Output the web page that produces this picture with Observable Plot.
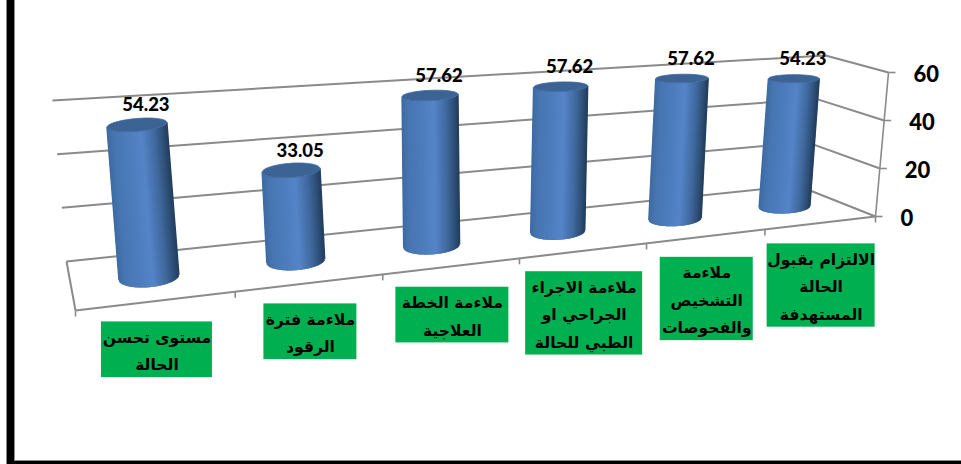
<!DOCTYPE html>
<html lang="ar">
<head>
<meta charset="utf-8">
<script src="https://cdn.jsdelivr.net/npm/d3@7"></script>
<script src="https://cdn.jsdelivr.net/npm/@observablehq/plot@0.6"></script>
<style>html,body{margin:0;padding:0;background:#fff;overflow:hidden}svg{display:block}</style>
</head>
<body>
<div id="chart"></div>
<script>
// ---- data ----
const categories = [
  "مستوى تحسن\nالحالة",
  "ملاءمة فترة\nالرقود",
  "ملاءمة الخطة\nالعلاجية",
  "ملاءمة الاجراء\nالجراحي او\nالطبي للحالة",
  "ملاءمة\nالتشخيص\nوالفحوصات",
  "الالتزام بقبول\nالحالة\nالمستهدفة"
];
const values = [54.23, 33.05, 57.62, 57.62, 57.62, 54.23];
const valueLabels = ["54.23", "33.05", "57.62", "57.62", "57.62", "54.23"];
const ticks = [0, 20, 40, 60];

// ---- the chart's 3-D box as it appears on the page ----
const W = 961, H = 464, vMax = 60, perspective = 1.247;
const corners = {
  backLeft:   {0: [66, 261], 60: [52, 100]},
  backRight:  {0: [797, 185], 60: [825, 55]},
  frontLeft:  {0: [75, 310], 60: [56, 130]},
  frontRight: {0: [875, 216], 60: [888, 72]}
};
const boxWidths = [111, 93, 113, 117, 93, 108];
const lerp = (a, b, t) => a + (b - a) * t;
const mix = (p, q, t) => [lerp(p[0], q[0], t), lerp(p[1], q[1], t)];
const onEdge = (c, v) => mix(c[0], c[60], v / vMax);
const foreshorten = u => perspective * u / (1 + (perspective - 1) * u);
// u: along the categories 0..1, w: depth 0 back..1 front, v: value
function project(u, w, v) {
  const t = foreshorten(u);
  const back = mix(onEdge(corners.backLeft, v), onEdge(corners.backRight, v), t);
  const front = mix(onEdge(corners.frontLeft, v), onEdge(corners.frontRight, v), t);
  return mix(back, front, w);
}
const n = categories.length;
const uOf = i => (i + 0.5) / n;

// ---- frame lines ----
const seg = (a, b) => ({x1: a[0], y1: a[1], x2: b[0], y2: b[1]});
const gridSegs = [];
for (const v of ticks) {
  gridSegs.push(seg(project(0, 0, v), project(1, 0, v)));
  gridSegs.push(seg(project(1, 0, v), project(1, 1, v)));
}
gridSegs.push(seg(project(0, 0, 0), project(0, 1, 0)));
gridSegs.push(seg(project(0, 1, 0), project(1, 1, 0)));
const axisSegs = [seg(project(1, 1, 0), project(1, 1, vMax))];
for (const v of ticks) {
  const p = project(1, 1, v);
  axisSegs.push(seg(p, [p[0] + 7, p[1]]));
}
for (let i = 0; i <= n; i++) {
  const p = project(i / n, 1, 0);
  axisSegs.push(seg(p, [p[0], p[1] + 6]));
}

// ---- cylinders ----
const radiusX = t => 30.5 - 5.5 * t;
const topDepth = t => 0.46 - 0.08 * t;
const slices = 90;
const strips = [], caps = [];
values.forEach((value, i) => {
  const u = uOf(i), t = foreshorten(u), rx = radiusX(t);
  const frame = (v, w) => ({
    c: project(u, w, v),
    slope: -0.09 + t * (0.06 + 0.04 * v / vMax),
    ry: 0.21 * (project(u, 1, v)[1] - project(u, 0, v)[1])
  });
  const base = frame(0, 0.5), top = frame(value, topDepth(t));
  for (let k = 0; k <= slices; k++) {
    const s = -1 + 2 * k / slices;
    const arc = Math.sqrt(Math.max(0, 1 - s * s));
    strips.push({
      x1: base.c[0] + rx * s, y1: base.c[1] + rx * s * base.slope + base.ry * arc,
      x2: top.c[0] + rx * s,  y2: top.c[1] + rx * s * top.slope + top.ry * arc,
      shade: s, bar: i
    });
  }
  for (let k = 0; k <= 72; k++) {
    const a = 2 * Math.PI * k / 72;
    caps.push({
      x: top.c[0] + rx * Math.cos(a),
      y: top.c[1] + rx * Math.cos(a) * top.slope + top.ry * Math.sin(a),
      bar: i
    });
  }
});

// ---- labels ----
const valueRows = values.map((v, i) => {
  const p = project(uOf(i), topDepth(foreshorten(uOf(i))), v);
  return {x: p[0] + 9, y: p[1] - 19.5, label: valueLabels[i]};
});
const tickRows = ticks.map(v => {
  const p = project(1, 1, v);
  return {x: p[0] + 25, y: p[1] + 2, label: String(v)};
});
const lineH = 27.6;
const catRows = categories.map((label, i) => {
  const p = project(uOf(i), 1, 0);
  const lines = label.split("\n").length;
  const y1 = p[1] + 21, y2 = y1 + lines * lineH + 0.5;
  return {label, x1: p[0] - boxWidths[i] / 2, x2: p[0] + boxWidths[i] / 2, y1, y2, x: p[0], y: (y1 + y2) / 2 - 2};
});

const chart = Plot.plot({
  width: W, height: H,
  margin: 0,
  x: {type: "linear", domain: [0, W], range: [0, W], axis: null},
  y: {type: "linear", domain: [0, H], range: [0, H], axis: null},
  color: {
    type: "linear",
    domain: [-1, -0.75, -0.2, 0.15, 0.6, 0.85, 1],
    range: ["#3f6ba3", "#4876b3", "#4f7ebf", "#5585c9", "#40689c", "#2f5078", "#243f60"]
  },
  style: {background: "#fff"},
  marks: [
    // picture frame
    Plot.rect([{x1: 6, x2: 15, y1: 0, y2: 464}, {x1: 6, x2: W, y1: 460, y2: 464}],
      {x1: "x1", x2: "x2", y1: "y1", y2: "y2", fill: "#8c8c8c"}),
    Plot.rect([{x1: 7, x2: 14, y1: 0, y2: 464}, {x1: 7, x2: W, y1: 461, y2: 464}],
      {x1: "x1", x2: "x2", y1: "y1", y2: "y2", fill: "#000"}),
    // walls and floor
    Plot.link(gridSegs, {x1: "x1", y1: "y1", x2: "x2", y2: "y2", stroke: () => "#8a8a8a", strokeWidth: 2}),
    Plot.link(axisSegs, {x1: "x1", y1: "y1", x2: "x2", y2: "y2", stroke: () => "#8a8a8a", strokeWidth: 1.6}),
    // cylinders
    Plot.link(strips, {x1: "x1", y1: "y1", x2: "x2", y2: "y2", stroke: "shade", strokeWidth: 1.5, strokeLinecap: "butt"}),
    Plot.line(caps, {x: "x", y: "y", z: "bar", fill: () => "#3b6394", stroke: () => "#3f6a9e", strokeWidth: 0.8, curve: "linear"}),
    // values
    Plot.text(valueRows, {x: "x", y: "y", text: "label", fontFamily: "Lato", fontWeight: 900, fontSize: 18.5, fill: "#000"}),
    Plot.text(tickRows, {x: "x", y: "y", text: "label", textAnchor: "start", fontFamily: "Lato", fontWeight: 900, fontSize: 22, fill: "#000"}),
    // category boxes
    Plot.rect(catRows, {x1: "x1", x2: "x2", y1: "y1", y2: "y2", fill: () => "#00b050"}),
    Plot.text(catRows, {x: "x", y: "y", text: "label", fontFamily: "DejaVu Sans", fontWeight: 700, fontSize: 15.6, lineHeight: lineH / 15.6, fill: "#000"})
  ]
});
document.getElementById("chart").append(chart);
</script>
</body>
</html>
